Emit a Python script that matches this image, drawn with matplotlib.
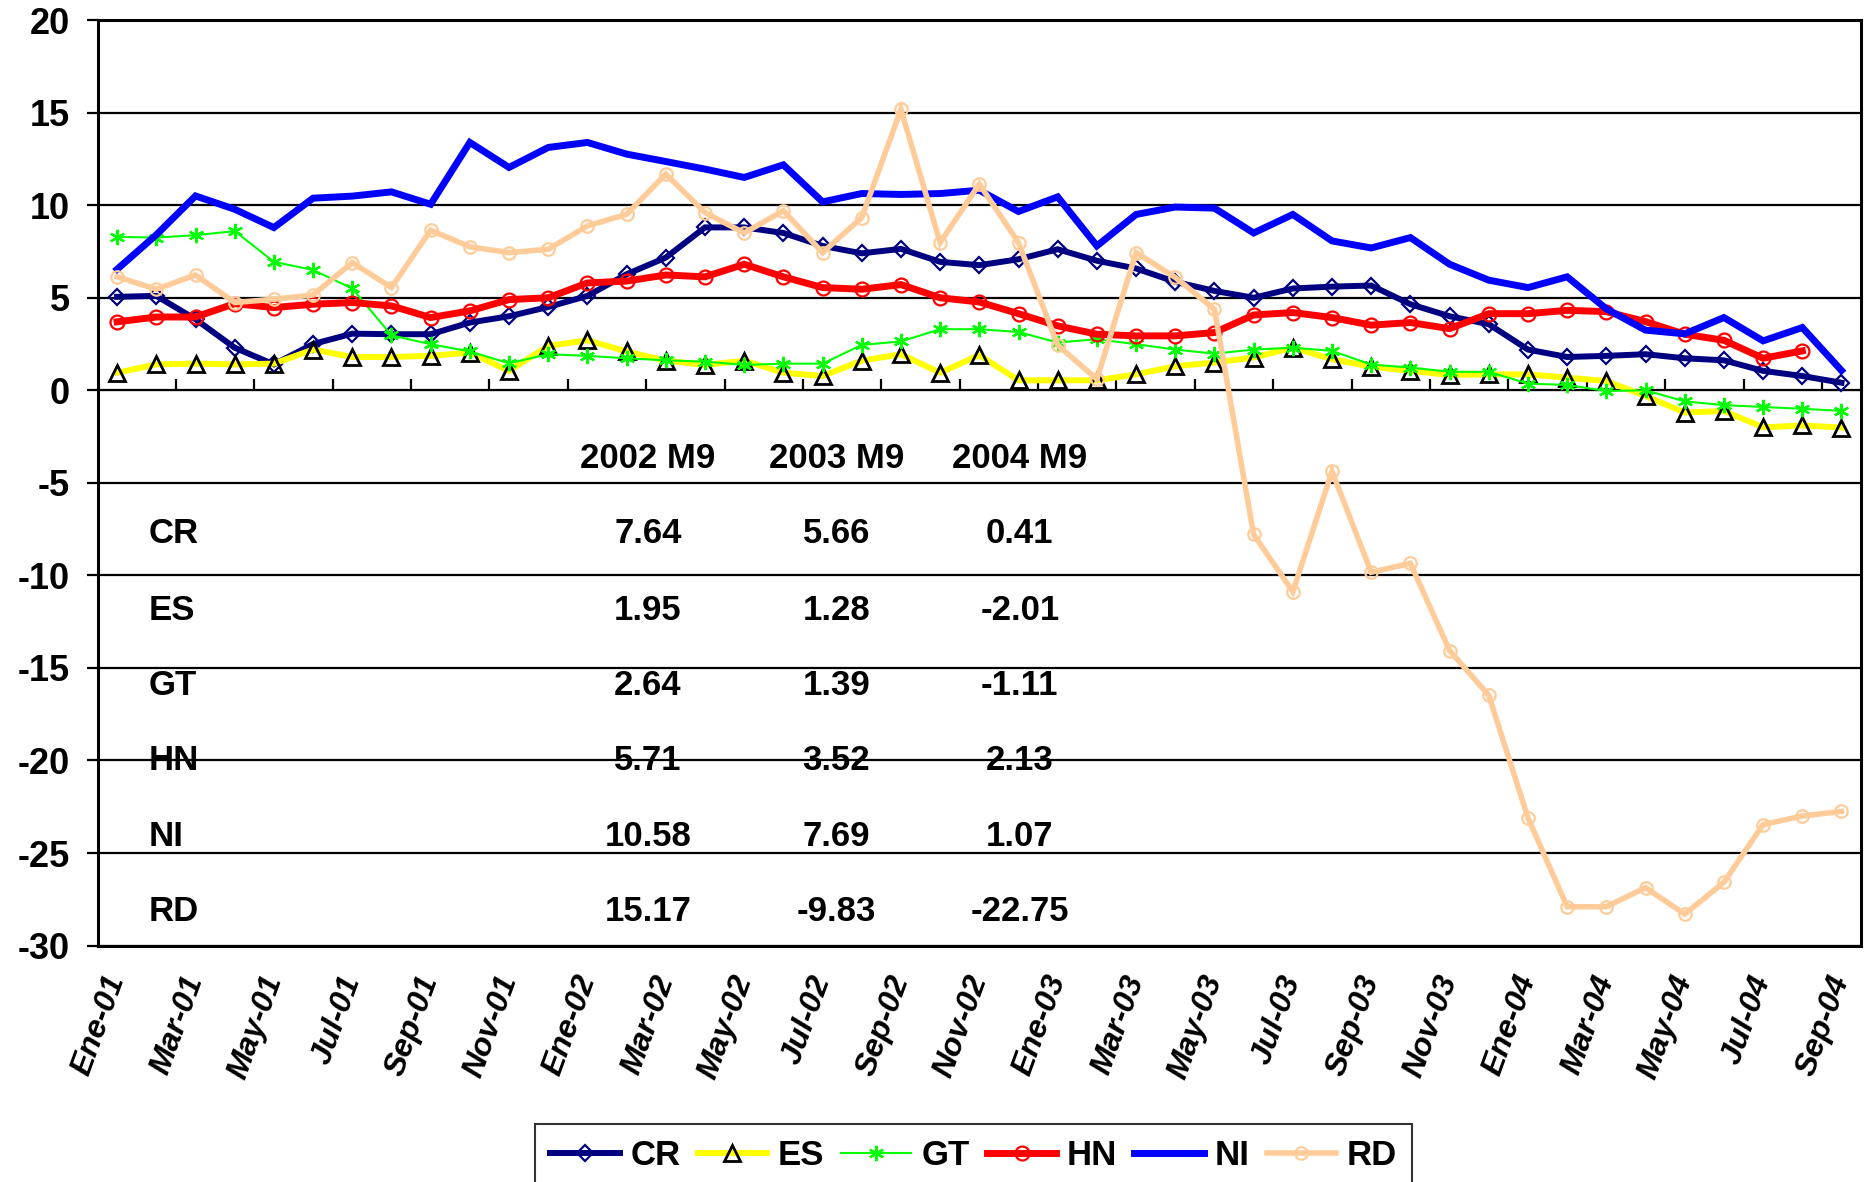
import numpy as np
import matplotlib
matplotlib.use("Agg")
import matplotlib.pyplot as plt

# ---------------- data ----------------
months = ["Ene", "Feb", "Mar", "Abr", "May", "Jun", "Jul", "Ago", "Sep", "Oct", "Nov", "Dic"]
years = ["01", "02", "03", "04"]
n_points = 45
categories = [f"{months[i % 12]}-{years[i // 12]}" for i in range(n_points)]

CR = [5.05, 5.1, 3.84, 2.3, 1.4, 2.5, 3.06, 3.03, 3.03, 3.66, 4.0, 4.5, 5.1, 6.27, 7.17,
      8.8, 8.8, 8.5, 7.8, 7.4, 7.64, 6.94, 6.76, 7.08, 7.62, 7.0, 6.58, 5.86, 5.37, 5.0,
      5.5, 5.6, 5.66, 4.65, 4.0, 3.57, 2.2, 1.8, 1.86, 1.95, 1.73, 1.62, 1.05, 0.77, 0.41]
ES = [0.95, 1.4, 1.44, 1.4, 1.44, 2.2, 1.8, 1.8, 1.86, 2.04, 1.05, 2.4, 2.7, 2.1, 1.6,
      1.37, 1.6, 0.95, 0.77, 1.6, 1.95, 0.95, 1.9, 0.54, 0.54, 0.54, 0.86, 1.3, 1.5, 1.77,
      2.3, 1.68, 1.28, 1.05, 0.83, 0.86, 0.86, 0.68, 0.5, -0.31, -1.2, -1.12, -2.0, -1.9, -2.01]
GT = [8.29, 8.25, 8.38, 8.6, 6.94, 6.5, 5.5, 2.97, 2.49, 2.1, 1.46, 1.95, 1.86, 1.73, 1.62,
      1.55, 1.37, 1.44, 1.44, 2.45, 2.64, 3.3, 3.3, 3.15, 2.58, 2.76, 2.49, 2.2, 1.98, 2.2,
      2.3, 2.13, 1.39, 1.23, 1.0, 1.0, 0.36, 0.29, -0.04, 0.0, -0.6, -0.8, -0.9, -1.0, -1.11]
HN = [3.7, 3.96, 3.96, 4.68, 4.47, 4.65, 4.74, 4.56, 3.93, 4.29, 4.9, 5.0, 5.8, 5.9, 6.23,
      6.13, 6.81, 6.13, 5.55, 5.46, 5.71, 5.0, 4.77, 4.14, 3.48, 3.03, 2.94, 2.94, 3.12, 4.07,
      4.2, 3.93, 3.52, 3.66, 3.33, 4.14, 4.14, 4.32, 4.25, 3.71, 3.03, 2.7, 1.73, 2.13, np.nan]
NI = [6.54, 8.4, 10.5, 9.78, 8.79, 10.38, 10.49, 10.72, 10.05, 13.39, 12.04, 13.12, 13.39, 12.76, 12.36,
      11.95, 11.5, 12.18, 10.18, 10.63, 10.58, 10.63, 10.81, 9.66, 10.45, 7.8, 9.5, 9.9, 9.84, 8.5,
      9.5, 8.07, 7.69, 8.25, 6.81, 5.95, 5.55, 6.13, 4.4, 3.25, 3.05, 3.93, 2.67, 3.39, 1.07]
RD = [6.13, 5.46, 6.23, 4.74, 4.92, 5.15, 6.9, 5.55, 8.65, 7.75, 7.44, 7.62, 8.88, 9.51, 11.68,
      9.6, 8.5, 9.7, 7.44, 9.33, 15.17, 7.98, 11.14, 7.98, 2.44, 0.6, 7.44, 6.1, 4.38, -7.79,
      -10.88, -4.38, -9.83, -9.35, -14.06, -16.48, -23.1, -27.9, -27.9, -26.87, -28.3, -26.58, -23.46, -23.0, -22.75]

series_names = ["CR", "ES", "GT", "HN", "NI", "RD"]

table_header = ["2002 M9", "2003 M9", "2004 M9"]
table_rows = ["CR", "ES", "GT", "HN", "NI", "RD"]
table_values = [
    ["7.64", "5.66", "0.41"],
    ["1.95", "1.28", "-2.01"],
    ["2.64", "1.39", "-1.11"],
    ["5.71", "3.52", "2.13"],
    ["10.58", "7.69", "1.07"],
    ["15.17", "-9.83", "-22.75"],
]

y_ticks = [20, 15, 10, 5, 0, -5, -10, -15, -20, -25, -30]

# ---------------- styles ----------------
styles = {
    "CR": dict(color="#000080", lw=4.3, marker="D", ms=8.5, mfc="none", mec="#000080", mew=1.6),
    "ES": dict(color="#FFFF00", lw=4.3, marker="^", ms=12, mfc="none", mec="black", mew=2.0),
    "GT": dict(color="#00FF00", lw=1.5, marker=(6, 2, 0), ms=11, mfc="none", mec="#00FF00", mew=1.6),
    "HN": dict(color="#FF0000", lw=5.0, marker="o", ms=10, mfc="none", mec="#FF0000", mew=1.6),
    "NI": dict(color="#0000FF", lw=5.0, marker=None),
    "RD": dict(color="#FFCC99", lw=4.0, marker="o", ms=9, mfc="none", mec="#FFCC99", mew=1.6),
}
data = {"CR": CR, "ES": ES, "GT": GT, "HN": HN, "NI": NI, "RD": RD}

plt.rcParams["font.family"] = ["Liberation Sans", "DejaVu Sans"]
plt.rcParams["font.weight"] = "bold"

fig = plt.figure(figsize=(18.65, 11.82), dpi=100)
ax = fig.add_axes([0.0523, 0.2, 0.9456, 0.783])

x = np.arange(n_points)
handles = []
for z, name in enumerate(series_names):
    st = styles[name]
    h, = ax.plot(x, data[name], label=name, zorder=3 + z, solid_joinstyle="miter", **st)
    handles.append(h)

ax.set_xlim(-0.5, n_points - 0.5)
ax.set_ylim(-30, 20)
ax.set_yticks(y_ticks)
ax.set_yticklabels([str(v) for v in y_ticks], fontsize=26, fontweight="bold")
ax.yaxis.grid(True, color="black", lw=1.6, zorder=1)
ax.set_axisbelow(True)
ax.tick_params(axis="y", direction="out", length=8, width=1.6, pad=12)

# bottom category labels (every two months)
label_pos = x[::2]
ax.set_xticks(label_pos)
ax.set_xticklabels([categories[i] for i in label_pos], rotation=70, ha="right", va="center",
                   rotation_mode="anchor", fontsize=23, fontweight="bold", fontstyle="italic")
ax.tick_params(axis="x", length=0, pad=22)

for sp in ax.spines.values():
    sp.set_color("black")
    sp.set_linewidth(2.2)

# category axis crossing at zero with tick marks between category pairs
zero_frac = (0 - (-30)) / (20 - (-30))
sec = ax.secondary_xaxis(zero_frac)
sec.set_xticks(np.arange(1.5, n_points - 0.5, 2))
sec.set_xticklabels([])
sec.tick_params(axis="x", direction="out", length=8, width=1.6)
sec.spines["bottom"].set_linewidth(1.8)

# embedded text table
col_x = [0.312, 0.419, 0.523]
header_y = 0.526
row_y = [0.445, 0.362, 0.281, 0.2005, 0.118, 0.037]
for cx, hd in zip(col_x, table_header):
    ax.text(cx, header_y, hd, transform=ax.transAxes, ha="center", va="center",
            fontsize=25, fontweight="bold", zorder=20)
for ry, rname, vals in zip(row_y, table_rows, table_values):
    ax.text(0.029, ry, rname, transform=ax.transAxes, ha="left", va="center",
            fontsize=25, fontweight="bold", zorder=20)
    for cx, v in zip(col_x, vals):
        ax.text(cx, ry, v, transform=ax.transAxes, ha="center", va="center",
                fontsize=25, fontweight="bold", zorder=20)

leg = fig.legend(handles=handles, labels=series_names, loc="upper center",
                 bbox_to_anchor=(0.522, 0.064), ncol=6, frameon=True,
                 fancybox=False, edgecolor="black", handlelength=2.0, columnspacing=0.5,
                 handletextpad=0.3, borderpad=0.45, prop={"weight": "bold", "size": 25})
leg.get_frame().set_linewidth(1.5)

fig.savefig("out.png", dpi=100)
